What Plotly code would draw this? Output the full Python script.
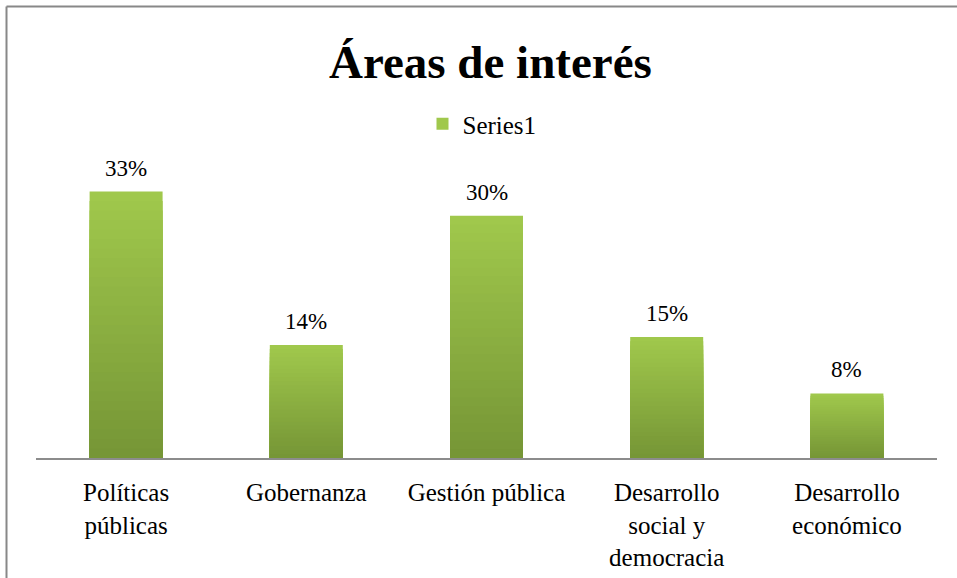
import plotly.graph_objects as go

categories = ["Políticas<br>públicas", "Gobernanza", "Gestión pública",
              "Desarrollo<br>social y<br>democracia", "Desarrollo<br>económico"]
values = [0.33, 0.14, 0.30, 0.15, 0.08]
labels = ["33%", "14%", "30%", "15%", "8%"]
series_name = "Series1"
title_text = "Áreas de interés"

FONT = "Liberation Serif"
W, H = 957, 578
L, R, T, B = 36, 20, 135, 120
pw, ph = W - L - R, H - T - B

top_rgb = (160, 200, 76)
bot_rgb = (118, 150, 54)
N = 28

fig = go.Figure()
for k in range(N):
    f = 1 - k / N
    t = k / (N - 1)
    c = tuple(round(top_rgb[i] + (bot_rgb[i] - top_rgb[i]) * t) for i in range(3))
    fig.add_trace(go.Bar(
        x=categories, y=[v * f for v in values],
        name=series_name, showlegend=(k == 0),
        marker=dict(color="rgb(%d,%d,%d)" % c, line=dict(width=0)),
        width=0.405, hoverinfo="skip" if k else None,
    ))

for c, v, lab in zip(categories, values, labels):
    fig.add_annotation(x=c, y=v, text=lab, showarrow=False, yanchor="bottom",
                       yshift=9, font=dict(family=FONT, size=23, color="black"))

def px_x(p):
    return (p - L) / pw

def px_y(p):
    return (H - B - p) / ph

fig.add_shape(type="line", xref="paper", yref="paper",
              x0=px_x(6.5), x1=px_x(W + 5), y0=px_y(6.5), y1=px_y(6.5),
              line=dict(color="#888888", width=2))
fig.add_shape(type="line", xref="paper", yref="paper",
              x0=px_x(6.5), x1=px_x(6.5), y0=px_y(6.5), y1=px_y(H + 5),
              line=dict(color="#888888", width=2))

fig.add_annotation(text="<b>" + title_text + "</b>", xref="paper", yref="paper",
                   x=px_x(490), y=px_y(62), xanchor="center", yanchor="middle",
                   showarrow=False, font=dict(family=FONT, size=47, color="black"))

fig.update_layout(
    width=W, height=H,
    margin=dict(l=L, r=R, t=T, b=B, pad=0, autoexpand=False),
    paper_bgcolor="white", plot_bgcolor="white",
    barmode="overlay", bargap=0.6,
    font=dict(family=FONT, size=23, color="black"),
    showlegend=True,
    legend=dict(orientation="h", x=px_x(482), xanchor="center",
                y=px_y(124), yanchor="middle",
                font=dict(family=FONT, size=25, color="black"),
                itemwidth=30, bgcolor="rgba(0,0,0,0)"),
    xaxis=dict(showline=True, linecolor="#8c8c8c", linewidth=2, automargin=False,
               showgrid=False, ticks="", tickfont=dict(family=FONT, size=25),
               ticklabelstandoff=11),
    yaxis=dict(range=[0, 0.40], visible=False, showgrid=False, zeroline=False,
               automargin=False),
)

fig.write_html("out.html", config={"displayModeBar": False},
               post_script="document.body.style.margin='0';document.body.style.padding='0';")
